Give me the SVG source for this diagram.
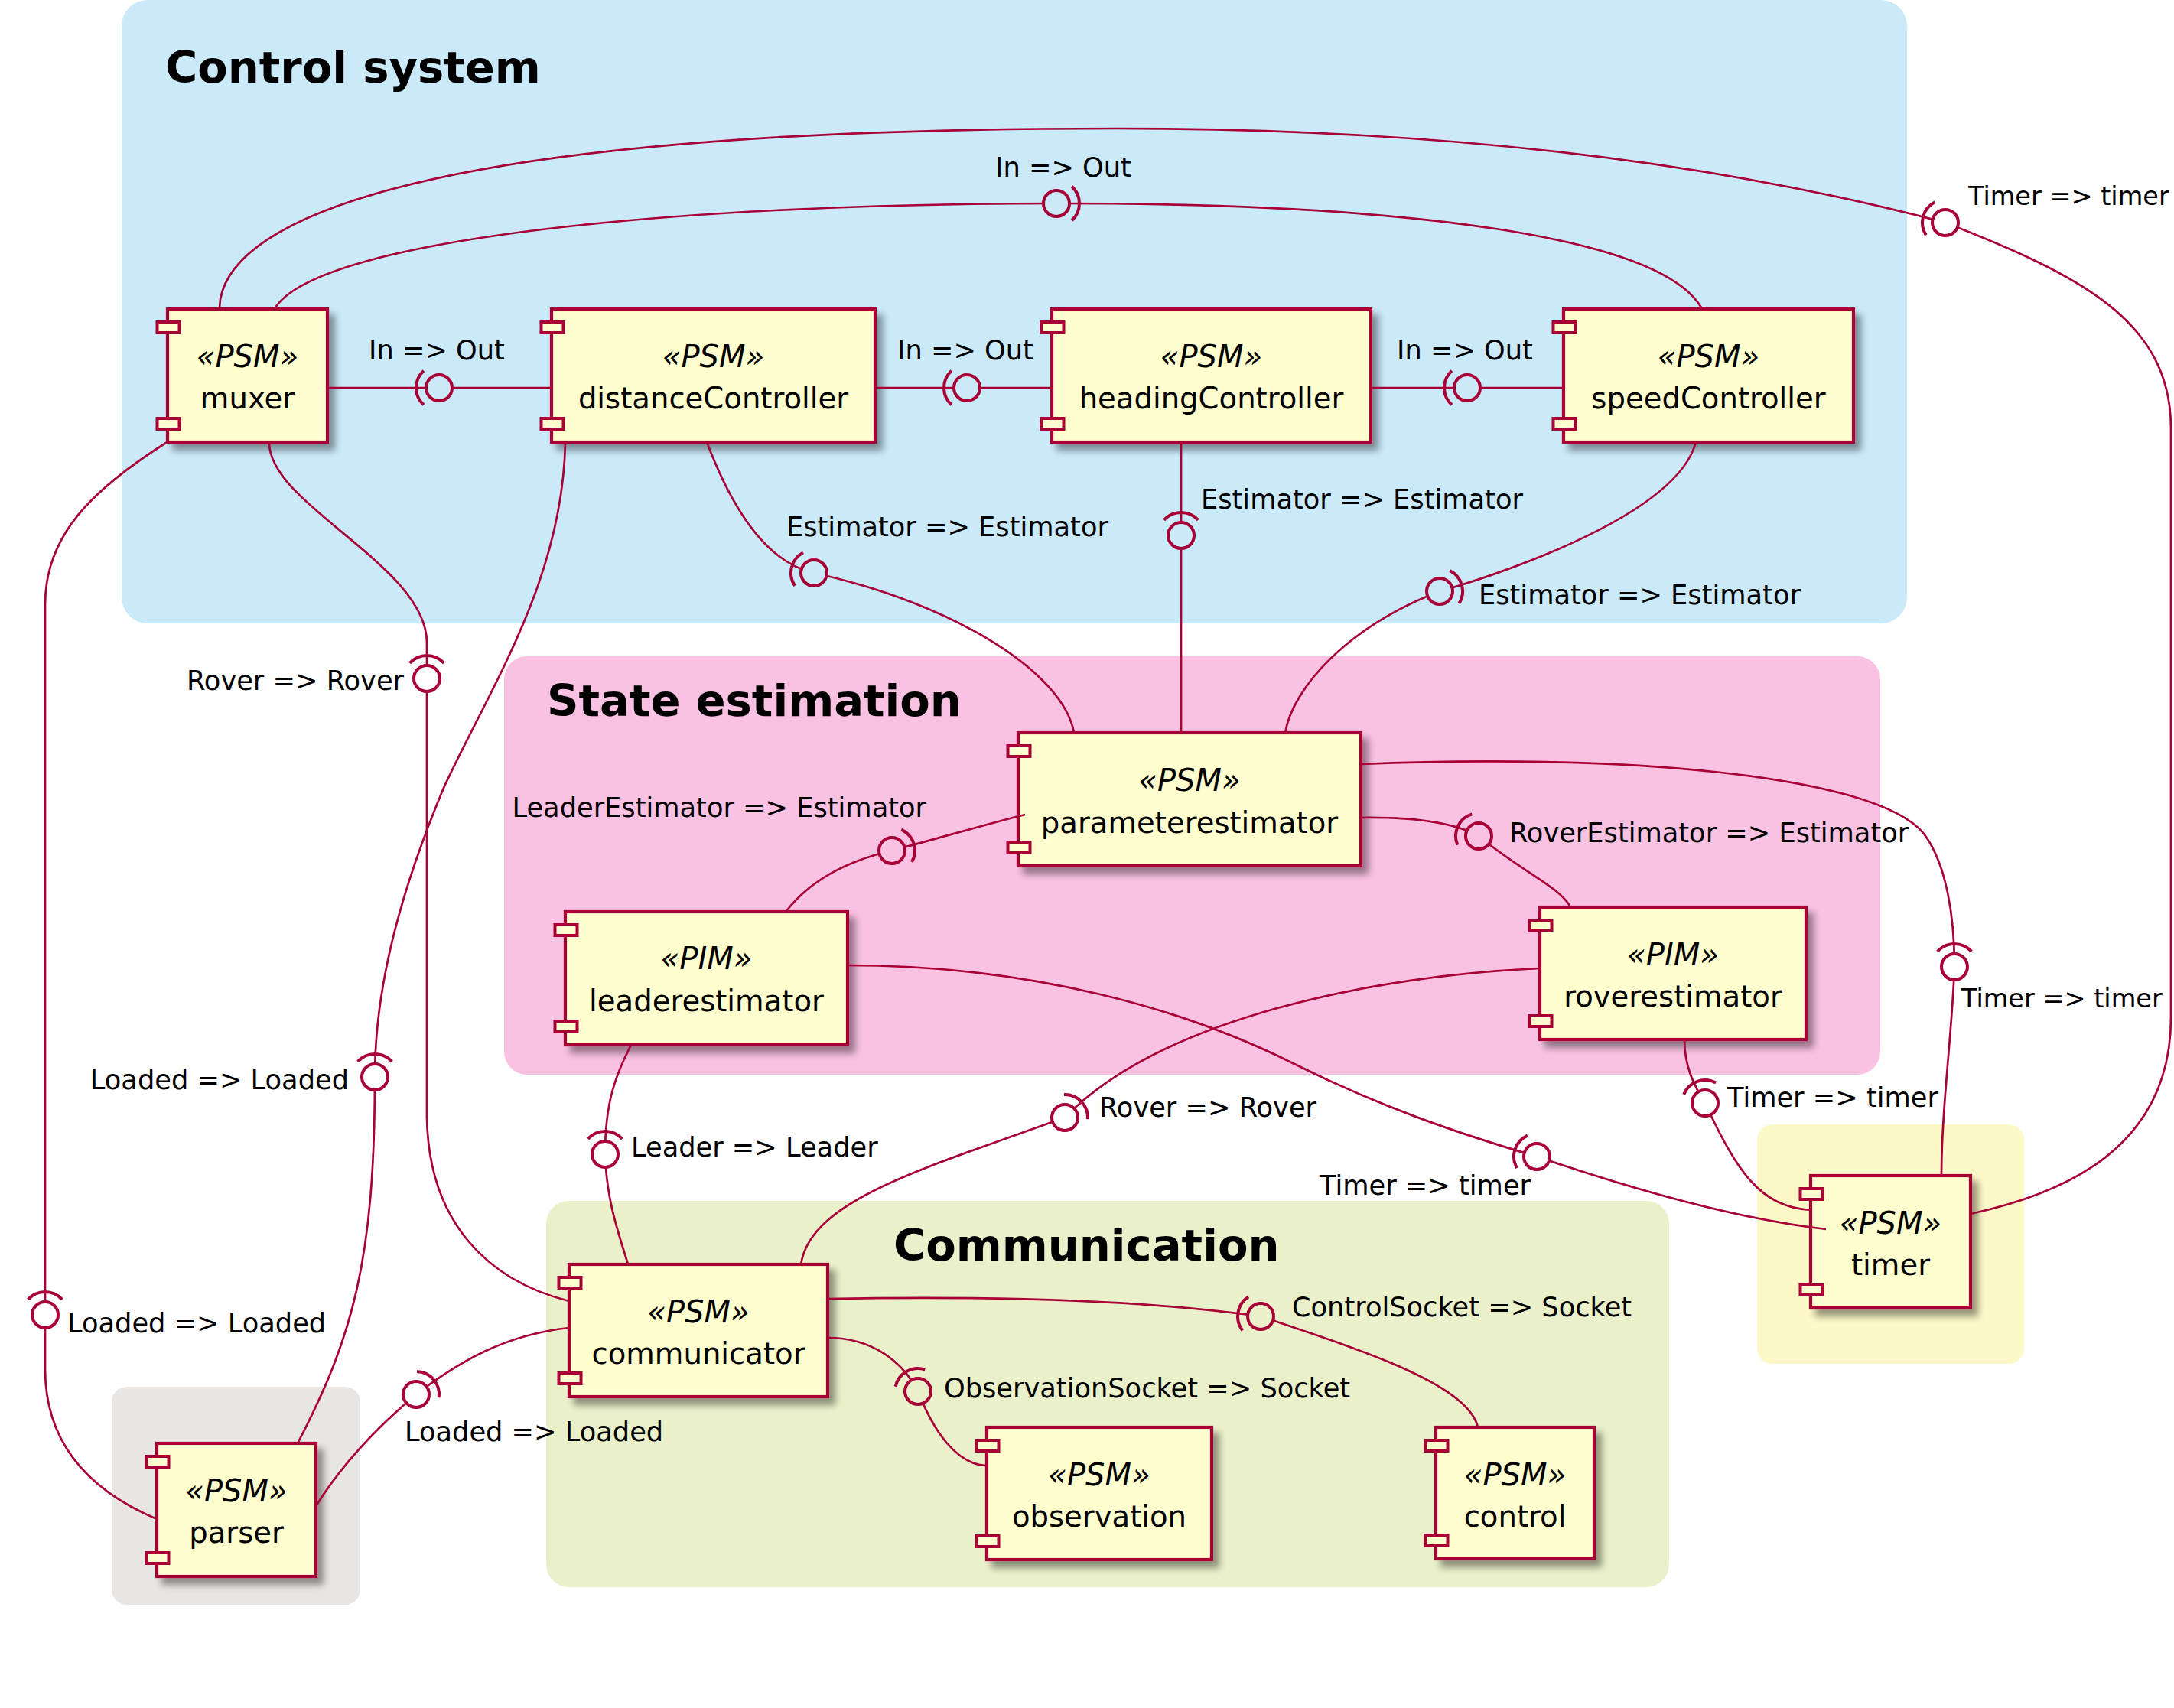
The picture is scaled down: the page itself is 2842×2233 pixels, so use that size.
<svg xmlns="http://www.w3.org/2000/svg" width="2842" height="2233" viewBox="0 0 2842 2233">
<style>
.cl{stroke:none}
.ttl{font-family:"DejaVu Sans",sans-serif;font-weight:bold;font-size:57.6px;fill:#000}
.box{fill:#FEFECE;stroke:#A80036;stroke-width:4.2}
.port{fill:#FEFECE;stroke:#A80036;stroke-width:4}
.st{font-family:"DejaVu Sans",sans-serif;font-style:italic;font-size:40px;text-anchor:middle;fill:#000}
.nm{font-family:"DejaVu Sans",sans-serif;font-size:38.6px;text-anchor:middle;fill:#000}
.ln{fill:none;stroke:#A80036;stroke-width:2.7}
.ball{stroke:#A80036;stroke-width:4}
.sk{fill:none;stroke:#A80036;stroke-width:4}
.lbl{font-family:"DejaVu Sans",sans-serif;font-size:35.2px;fill:#000}
.sm{font-size:33.5px}
.w{fill:#FFFFFF}.b{fill:#CAE9F9}.p{fill:#F9C1E2}.g{fill:#E9F0CA}
</style>
<defs>
<filter id="sh" x="-10%" y="-10%" width="130%" height="135%">
<feGaussianBlur in="SourceAlpha" stdDeviation="5"/>
<feOffset dx="8" dy="9" result="o"/>
<feComponentTransfer><feFuncA type="linear" slope="0.4"/></feComponentTransfer>
<feMerge><feMergeNode/><feMergeNode in="SourceGraphic"/></feMerge>
</filter>
<path id="sock" class="sk" d="M20.07,-22.29 A30,30 0 0 1 20.07,22.29"/>
</defs>
<rect width="2842" height="2233" fill="#FFFFFF"/>
<g id="clusters">
<g id="cluster-control"><rect class="cl" x="159" y="0" width="2334" height="815" rx="34" fill="#CAE9F9"/><text class="ttl" x="216" y="108">Control system</text></g>
<g id="cluster-state"><rect class="cl" x="659" y="858" width="1799" height="547" rx="30" fill="#F9C1E2"/><text class="ttl" x="715" y="936">State estimation</text></g>
<g id="cluster-comm"><rect class="cl" x="714" y="1570" width="1468" height="505" rx="30" fill="#E9F0CA"/><text class="ttl" x="1168" y="1648">Communication</text></g>
<g id="cluster-parser"><rect class="cl" x="146" y="1813" width="325" height="285" rx="20" fill="#E9E5E2"/></g>
<g id="cluster-timer"><rect class="cl" x="2297" y="1470" width="349" height="313" rx="20" fill="#FCF8C8"/></g>
</g>
<g id="nodes">
<g id="muxer"><rect class="box" filter="url(#sh)" x="219" y="404" width="209" height="174"/><rect class="port" x="205.5" y="421" width="29" height="14"/><rect class="port" x="205.5" y="547" width="29" height="14"/><text class="st" x="323.5" y="480">«PSM»</text><text class="nm" x="323.5" y="534">muxer</text></g>
<g id="distanceController"><rect class="box" filter="url(#sh)" x="721" y="404" width="423" height="174"/><rect class="port" x="707.5" y="421" width="29" height="14"/><rect class="port" x="707.5" y="547" width="29" height="14"/><text class="st" x="932.5" y="480">«PSM»</text><text class="nm" x="932.5" y="534">distanceController</text></g>
<g id="headingController"><rect class="box" filter="url(#sh)" x="1375" y="404" width="417" height="174"/><rect class="port" x="1361.5" y="421" width="29" height="14"/><rect class="port" x="1361.5" y="547" width="29" height="14"/><text class="st" x="1583.5" y="480">«PSM»</text><text class="nm" x="1583.5" y="534">headingController</text></g>
<g id="speedController"><rect class="box" filter="url(#sh)" x="2044" y="404" width="379" height="174"/><rect class="port" x="2030.5" y="421" width="29" height="14"/><rect class="port" x="2030.5" y="547" width="29" height="14"/><text class="st" x="2233.5" y="480">«PSM»</text><text class="nm" x="2233.5" y="534">speedController</text></g>
<g id="parameterestimator"><rect class="box" filter="url(#sh)" x="1331" y="958" width="448" height="174"/><rect class="port" x="1317.5" y="975" width="29" height="14"/><rect class="port" x="1317.5" y="1101" width="29" height="14"/><text class="st" x="1555" y="1034">«PSM»</text><text class="nm" x="1555" y="1089">parameterestimator</text></g>
<g id="leaderestimator"><rect class="box" filter="url(#sh)" x="739" y="1192" width="369" height="174"/><rect class="port" x="725.5" y="1209" width="29" height="14"/><rect class="port" x="725.5" y="1335" width="29" height="14"/><text class="st" x="923.5" y="1267">«PIM»</text><text class="nm" x="923.5" y="1322">leaderestimator</text></g>
<g id="roverestimator"><rect class="box" filter="url(#sh)" x="2013" y="1186" width="348" height="173"/><rect class="port" x="1999.5" y="1203" width="29" height="14"/><rect class="port" x="1999.5" y="1328" width="29" height="14"/><text class="st" x="2187" y="1262">«PIM»</text><text class="nm" x="2187" y="1316">roverestimator</text></g>
<g id="communicator"><rect class="box" filter="url(#sh)" x="744" y="1653" width="338" height="173"/><rect class="port" x="730.5" y="1670" width="29" height="14"/><rect class="port" x="730.5" y="1795" width="29" height="14"/><text class="st" x="913" y="1729">«PSM»</text><text class="nm" x="913" y="1783">communicator</text></g>
<g id="observation"><rect class="box" filter="url(#sh)" x="1290" y="1866" width="294" height="173"/><rect class="port" x="1276.5" y="1883" width="29" height="14"/><rect class="port" x="1276.5" y="2008" width="29" height="14"/><text class="st" x="1437" y="1942">«PSM»</text><text class="nm" x="1437" y="1996">observation</text></g>
<g id="control"><rect class="box" filter="url(#sh)" x="1877" y="1866" width="207" height="172"/><rect class="port" x="1863.5" y="1883" width="29" height="14"/><rect class="port" x="1863.5" y="2007" width="29" height="14"/><text class="st" x="1980.5" y="1942">«PSM»</text><text class="nm" x="1980.5" y="1996">control</text></g>
<g id="parser"><rect class="box" filter="url(#sh)" x="205" y="1887" width="208" height="174"/><rect class="port" x="191.5" y="1904" width="29" height="14"/><rect class="port" x="191.5" y="2030" width="29" height="14"/><text class="st" x="309" y="1963">«PSM»</text><text class="nm" x="309" y="2017">parser</text></g>
<g id="timer"><rect class="box" filter="url(#sh)" x="2367" y="1537" width="209" height="173"/><rect class="port" x="2353.5" y="1554" width="29" height="14"/><rect class="port" x="2353.5" y="1679" width="29" height="14"/><text class="st" x="2471.5" y="1613">«PSM»</text><text class="nm" x="2471.5" y="1667">timer</text></g>
</g>
<g id="connectors">
<path class="ln" d="M428,507 L721,507"/>
<path class="ln" d="M1144,507 L1375,507"/>
<path class="ln" d="M1792,507 L2044,507"/>
<path class="ln" d="M360,402 C420,310 900,266 1381,266 C1850,266 2170,310 2224,402"/>
<path class="ln" d="M287,402 C290,300 500,168 1459,168 C2000,168 2350,240 2543,291 C2720,360 2838,420 2838,560 L2838,1330 C2838,1500 2700,1560 2576,1587"/>
<path class="ln" d="M220,577 C120,640 59,700 59,790 L59,1790 C59,1890 120,1950 205,1986"/>
<path class="ln" d="M352,579 C352,660 558,740 558,840 L558,1460 C560,1600 640,1675 744,1701"/>
<path class="ln" d="M739,579 C735,760 640,900 580,1030 C530,1150 490,1280 490,1408 C490,1650 460,1750 389,1887"/>
<path class="ln" d="M924,578 C955,660 1000,735 1064,749 C1250,790 1390,880 1404,958"/>
<path class="ln" d="M1544,578 L1544,958"/>
<path class="ln" d="M2217,578 C2190,680 1930,760 1882,773 C1760,820 1690,900 1680,958"/>
<path class="ln" d="M1028,1191 C1060,1150 1110,1125 1166,1112 C1220,1098 1280,1080 1340,1065"/>
<path class="ln" d="M1779,1069 C1850,1068 1900,1075 1933,1093 C1990,1140 2040,1160 2053,1186"/>
<path class="ln" d="M1779,999 C2100,985 2450,1010 2515,1090 C2545,1130 2555,1200 2555,1264 C2552,1350 2538,1450 2538,1537"/>
<path class="ln" d="M2202,1359 C2202,1395 2215,1420 2229,1442 C2270,1530 2300,1578 2367,1582"/>
<path class="ln" d="M1108,1262 C1350,1262 1550,1320 1690,1390 C1800,1445 1900,1480 2009,1512 C2150,1560 2280,1595 2387,1607"/>
<path class="ln" d="M2013,1266 C1800,1275 1520,1330 1392,1461 C1200,1530 1060,1570 1047,1653"/>
<path class="ln" d="M825,1366 C805,1405 791,1440 791,1509 C793,1570 808,1610 821,1653"/>
<path class="ln" d="M1082,1698 C1300,1694 1500,1700 1648,1721 C1780,1765 1920,1810 1932,1866"/>
<path class="ln" d="M1082,1749 C1140,1749 1180,1780 1200,1819 C1220,1870 1250,1915 1290,1916"/>
<path class="ln" d="M744,1736 C660,1745 600,1780 544,1823 C500,1860 450,1910 413,1969"/>
<circle class="ball b" cx="574" cy="507" r="17"/><use href="#sock" transform="translate(574,507) rotate(180)"/>
<circle class="ball b" cx="1264" cy="507" r="17"/><use href="#sock" transform="translate(1264,507) rotate(180)"/>
<circle class="ball b" cx="1918" cy="507" r="17"/><use href="#sock" transform="translate(1918,507) rotate(180)"/>
<circle class="ball b" cx="1381" cy="266" r="17"/><use href="#sock" transform="translate(1381,266) rotate(0)"/>
<circle class="ball w" cx="2543" cy="291" r="17"/><use href="#sock" transform="translate(2543,291) rotate(195)"/>
<circle class="ball w" cx="59" cy="1719" r="17"/><use href="#sock" transform="translate(59,1719) rotate(270)"/>
<circle class="ball w" cx="558" cy="887" r="17"/><use href="#sock" transform="translate(558,887) rotate(270)"/>
<circle class="ball w" cx="490" cy="1408" r="17"/><use href="#sock" transform="translate(490,1408) rotate(270)"/>
<circle class="ball b" cx="1064" cy="749" r="17"/><use href="#sock" transform="translate(1064,749) rotate(194)"/>
<circle class="ball b" cx="1544" cy="700" r="17"/><use href="#sock" transform="translate(1544,700) rotate(270)"/>
<circle class="ball b" cx="1882" cy="773" r="17"/><use href="#sock" transform="translate(1882,773) rotate(344)"/>
<circle class="ball p" cx="1166" cy="1112" r="17"/><use href="#sock" transform="translate(1166,1112) rotate(-18)"/>
<circle class="ball p" cx="1933" cy="1093" r="17"/><use href="#sock" transform="translate(1933,1093) rotate(205)"/>
<circle class="ball w" cx="2555" cy="1264" r="17"/><use href="#sock" transform="translate(2555,1264) rotate(270)"/>
<circle class="ball w" cx="2229" cy="1442" r="17"/><use href="#sock" transform="translate(2229,1442) rotate(250)"/>
<circle class="ball w" cx="2009" cy="1512" r="17"/><use href="#sock" transform="translate(2009,1512) rotate(198)"/>
<circle class="ball w" cx="1392" cy="1461" r="17"/><use href="#sock" transform="translate(1392,1461) rotate(316)"/>
<circle class="ball w" cx="791" cy="1509" r="17"/><use href="#sock" transform="translate(791,1509) rotate(270)"/>
<circle class="ball g" cx="1648" cy="1721" r="17"/><use href="#sock" transform="translate(1648,1721) rotate(190)"/>
<circle class="ball g" cx="1200" cy="1819" r="17"/><use href="#sock" transform="translate(1200,1819) rotate(240)"/>
<circle class="ball w" cx="544" cy="1823" r="17"/><use href="#sock" transform="translate(544,1823) rotate(320)"/>
</g>
<g id="labels">
<text class="lbl" x="571" y="470" text-anchor="middle">In =&gt; Out</text>
<text class="lbl" x="1262" y="470" text-anchor="middle">In =&gt; Out</text>
<text class="lbl" x="1915" y="470" text-anchor="middle">In =&gt; Out</text>
<text class="lbl" x="1390" y="231" text-anchor="middle">In =&gt; Out</text>
<text class="lbl sm" x="2573" y="268">Timer =&gt; timer</text>
<text class="lbl" x="88" y="1742">Loaded =&gt; Loaded</text>
<text class="lbl" x="528" y="902" text-anchor="end">Rover =&gt; Rover</text>
<text class="lbl" x="456" y="1424" text-anchor="end">Loaded =&gt; Loaded</text>
<text class="lbl" x="1028" y="701">Estimator =&gt; Estimator</text>
<text class="lbl" x="1570" y="665">Estimator =&gt; Estimator</text>
<text class="lbl" x="1933" y="790">Estimator =&gt; Estimator</text>
<text class="lbl" x="1211" y="1068" text-anchor="end">LeaderEstimator =&gt; Estimator</text>
<text class="lbl" x="1973" y="1101">RoverEstimator =&gt; Estimator</text>
<text class="lbl sm" x="2564" y="1317">Timer =&gt; timer</text>
<text class="lbl" x="2258" y="1447">Timer =&gt; timer</text>
<text class="lbl" x="2001" y="1562" text-anchor="end">Timer =&gt; timer</text>
<text class="lbl" x="1437" y="1460">Rover =&gt; Rover</text>
<text class="lbl" x="825" y="1512">Leader =&gt; Leader</text>
<text class="lbl" x="1689" y="1721">ControlSocket =&gt; Socket</text>
<text class="lbl" x="1234" y="1827">ObservationSocket =&gt; Socket</text>
<text class="lbl" x="529" y="1884">Loaded =&gt; Loaded</text>
</g>
</svg>
